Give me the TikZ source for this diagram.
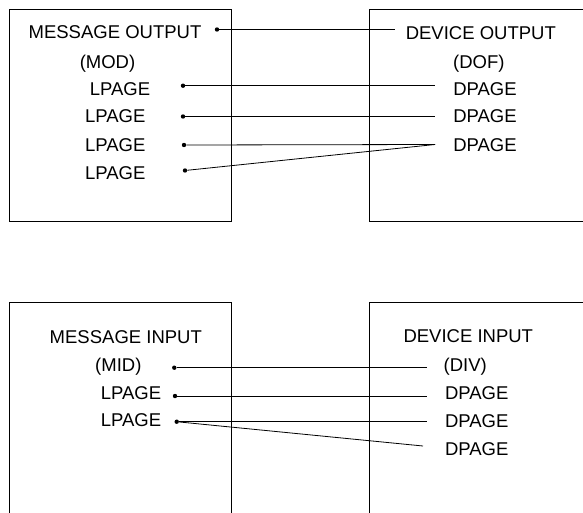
\documentclass[tikz,border=0pt]{standalone}
\usepackage{fontspec}
\setmainfont{Liberation Sans}
\usepackage{tikz}

\begin{document}
\begin{tikzpicture}[x=1pt, y=-1pt,
    label/.style={anchor=base, inner sep=0pt, font=\fontsize{18.5}{22}\selectfont},
    pin/.style={circle, fill, inner sep=0pt, minimum size=4.4pt},
    wire/.style={line width=0.8pt}]
    \useasboundingbox (0,0) rectangle (583,512);
    \clip (0,0) rectangle (583,512);

    \draw[line width=0.9pt] (9,9.5) rectangle (231,221);
    \draw[line width=0.9pt] (369.3,9.5) rectangle (600,221);
    \draw[line width=0.9pt] (9,302.7) rectangle (231,530);
    \draw[line width=0.9pt] (369.3,302.7) rectangle (600,530);

    \node[label] (mout) at (115,38.5) {MESSAGE OUTPUT};
    \node[label] (mod) at (107.5,68.3) {(MOD)};
    \node[label] (lp1) at (120,95) {LPAGE};
    \node[label] (lp2) at (115.3,122.7) {LPAGE};
    \node[label] (lp3) at (115.3,151.7) {LPAGE};
    \node[label] (lp4) at (115.3,179.3) {LPAGE};

    \node[label] (dout) at (480.8,39.5) {DEVICE OUTPUT};
    \node[label] (dof) at (478.8,68.3) {(DOF)};
    \node[label] (dp1) at (485,95) {DPAGE};
    \node[label] (dp2) at (485,122.7) {DPAGE};
    \node[label] (dp3) at (485,151.7) {DPAGE};

    \node[pin] (moutpin) at (217,29.5) {};
    \node[pin] (lp1pin) at (183,85.7) {};
    \node[pin] (lp2pin) at (183,116.5) {};
    \node[pin] (lp3pin) at (184,145) {};
    \node[pin] (lp4pin) at (185,170.5) {};

    \coordinate (doutend) at (395,29.5);
    \coordinate (dp1end) at (435,85.7);
    \coordinate (dp2end) at (435,116.5);
    \coordinate (dp3end) at (435,144.5);

    \draw[wire] (moutpin) -- (doutend);
    \draw[wire] (lp1pin) -- (dp1end);
    \draw[wire] (lp2pin) -- (dp2end);
    \draw[wire] (lp3pin) -- (dp3end);
    \draw[wire] (lp4pin) -- (dp3end);

    \node[label] (min) at (125.8,343.3) {MESSAGE INPUT};
    \node[label] (mid) at (118.3,371.7) {(MID)};
    \node[label] (li1) at (131,399.3) {LPAGE};
    \node[label] (li2) at (131,426.7) {LPAGE};

    \node[label] (din) at (468.3,342.7) {DEVICE INPUT};
    \node[label] (div) at (465.3,371.7) {(DIV)};
    \node[label] (di1) at (476.7,399.3) {DPAGE};
    \node[label] (di2) at (476.7,427.3) {DPAGE};
    \node[label] (di3) at (476.7,455) {DPAGE};

    \node[pin] (midpin) at (174.3,367.7) {};
    \node[pin] (li1pin) at (175,396) {};
    \node[pin] (li2pin) at (176.7,421.7) {};

    \coordinate (divend) at (427,367.7);
    \coordinate (di1end) at (427,396);
    \coordinate (di2end) at (427,421.7);
    \coordinate (di3end) at (423,446);

    \draw[wire] (midpin) -- (divend);
    \draw[wire] (li1pin) -- (di1end);
    \draw[wire] (li2pin) -- (di2end);
    \draw[wire] (li2pin) -- (di3end);
\end{tikzpicture}
\end{document}
